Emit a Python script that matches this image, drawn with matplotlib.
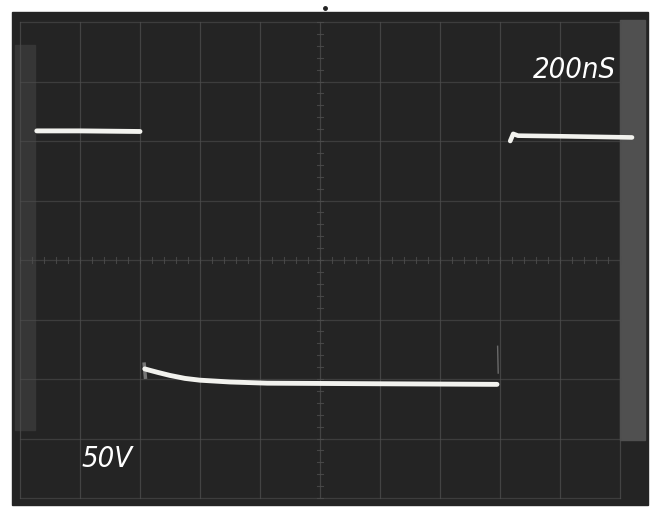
import matplotlib.pyplot as plt
from matplotlib.patches import Rectangle
import numpy as np

# trace values, in divisions (10 x 8 graticule, centre = 0)
high_left_x = [0.28, 1.0, 2.0]
high_left_y = [2.17, 2.17, 2.16]

low_x = [2.08, 2.15, 2.3, 2.5, 2.75, 3.0, 3.5, 4.12, 6.0, 7.95]
low_y = [-1.83, -1.85, -1.89, -1.94, -1.99, -2.02, -2.05, -2.07, -2.08, -2.09]

high_right_x = [8.17, 8.22, 8.3, 9.0, 10.2]
high_right_y = [2.0, 2.12, 2.09, 2.08, 2.06]

time_label = '200nS'
volt_label = '50V'

SCREEN = '#242424'
GRID = '#4e4e4e'
TRACE = '#f2f2ee'

fig = plt.figure(figsize=(6.55, 5.08), dpi=100)
ax = fig.add_axes([0, 0, 1, 1])
ax.set_xlim(-0.333, 10.583)
ax.set_ylim(-4.168, 4.37)
ax.axis('off')
fig.patch.set_facecolor('white')

# crt screen + bezel shading
ax.add_patch(Rectangle((-0.133, -4.12), 10.6, 8.29, color=SCREEN, zorder=0))
ax.add_patch(Rectangle((-0.083, -2.86), 0.33, 6.47, color='#363636', zorder=0.5))
ax.add_patch(Rectangle((10.0, -3.03), 0.42, 7.06, color='#505050', zorder=0.5))

# graticule
for gx in range(0, 11):
    ax.plot([gx, gx], [-4, 4], color=GRID, lw=0.9, alpha=0.75, zorder=1)
for gy in range(-4, 5):
    ax.plot([0, 10], [gy, gy], color=GRID, lw=0.9, alpha=0.6, zorder=1)
# centre axis minor ticks
for t in np.arange(0, 10.01, 0.2):
    ax.plot([t, t], [-0.05, 0.05], color=GRID, lw=0.8, alpha=0.8, zorder=1)
for t in np.arange(-4, 4.01, 0.2):
    ax.plot([4.95, 5.05], [t, t], color=GRID, lw=0.8, alpha=0.8, zorder=1)

# the trace
ax.plot(high_left_x, high_left_y, color=TRACE, lw=3.5, solid_capstyle='round', zorder=3)
ax.plot(low_x, low_y, color=TRACE, lw=3.5, solid_capstyle='round', zorder=3)
ax.plot(high_right_x, high_right_y, color=TRACE, lw=3.3, solid_capstyle='round', zorder=3)
# faint edges
ax.plot([7.96, 7.97], [-1.45, -1.9], color='#6a6a6a', lw=1, zorder=2)
ax.plot([2.07, 2.09], [-1.75, -1.97], color='#8a8a8a', lw=2.5, alpha=0.8, zorder=2)

ax.text(8.55, 3.2, time_label, color='white', fontsize=21, style='italic',
        fontstretch='condensed', family='DejaVu Sans', ha='left', va='center', zorder=4)
ax.text(1.03, -3.35, volt_label, color='white', fontsize=21, style='italic',
        fontstretch='condensed', family='DejaVu Sans', ha='left', va='center', zorder=4)

# little mark above the screen
ax.plot([5.08], [4.23], marker='o', ms=2.5, color='#222222')

fig.savefig('out.png', dpi=100, facecolor='white')
